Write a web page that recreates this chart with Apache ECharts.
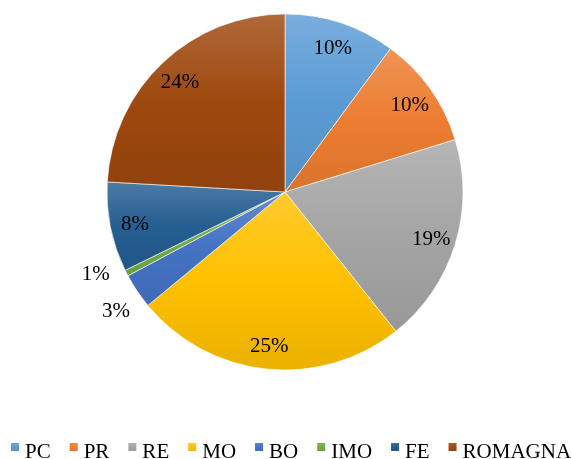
<!DOCTYPE html>
<html>
<head>
<meta charset="utf-8">
<script src="https://cdn.jsdelivr.net/npm/echarts@6/dist/echarts.min.js"></script>
<style>
  html, body { margin: 0; padding: 0; background: #fff; }
  #chart { width: 571px; height: 459px; }
</style>
</head>
<body>
<div id="chart"></div>
<script>
// ---- data ----
const categories = ['PC', 'PR', 'RE', 'MO', 'BO', 'IMO', 'FE', 'ROMAGNA'];
const shares = [10.1, 10.15, 19.05, 24.7, 3.2, 0.55, 8.15, 24.1];
const outsideLabelCats = ['BO', 'IMO'];

// ---- styles ----
const baseColors = ['#5B9BD5', '#ED7D31', '#A5A5A5', '#FFC000', '#4472C4', '#70AD47', '#255E91', '#9E480E'];
const FONT = '"Liberation Serif", "Times New Roman", serif';

function mix(hex, target, t) {
  const n = parseInt(hex.slice(1), 16);
  const r = (n >> 16) & 255, g = (n >> 8) & 255, b = n & 255;
  const m = v => Math.round(v + (target - v) * t);
  return 'rgb(' + m(r) + ',' + m(g) + ',' + m(b) + ')';
}
function grad(hex) {
  return new echarts.graphic.LinearGradient(0, 0, 0, 1, [
    { offset: 0, color: mix(hex, 255, 0.18) },
    { offset: 0.5, color: hex },
    { offset: 1, color: mix(hex, 0, 0.08) }
  ]);
}

const center = [285, 192];
const R = 178;

const mainData = categories.map((c, i) => ({
  name: c, value: shares[i], itemStyle: { color: grad(baseColors[i]) }
}));
const pctFmt = p => Math.round(p.percent) + '%';

const innerLabelData = categories.map((c, i) => ({
  name: c, value: shares[i],
  label: { show: outsideLabelCats.indexOf(c) < 0 }
}));
const outerLabelData = categories.map((c, i) => ({
  name: c, value: shares[i],
  label: { show: outsideLabelCats.indexOf(c) >= 0 }
}));

const labelStyle = {
  position: 'inside', formatter: pctFmt, color: '#000',
  fontFamily: FONT, fontSize: 21
};

const chart = echarts.init(document.getElementById('chart'), null, { renderer: 'canvas' });
chart.setOption({
  animation: false,
  backgroundColor: '#ffffff',
  legend: {
    data: categories,
    left: 9, top: 441, width: 800, padding: 0,
    itemWidth: 10, itemHeight: 10, itemGap: 17,
    icon: 'rect',
    formatter: '{t|{name}}',
    textStyle: {
      fontFamily: FONT, fontSize: 21, color: '#000',
      rich: { t: { fontFamily: FONT, fontSize: 21, color: '#000', padding: [10, 0, 0, 0] } }
    },
    selectedMode: false
  },
  series: [
    {
      type: 'pie', center: center, radius: [0, R],
      startAngle: 90, clockwise: true, silent: true,
      label: { show: false }, labelLine: { show: false },
      itemStyle: { borderColor: '#ffffff', borderWidth: 0.6 },
      data: mainData
    },
    {
      type: 'pie', center: center, radius: [122, R],
      startAngle: 90, clockwise: true, silent: true,
      itemStyle: { color: 'rgba(0,0,0,0)' },
      label: labelStyle, labelLine: { show: false },
      labelLayout: { dy: 2 },
      data: innerLabelData
    },
    {
      type: 'pie', center: center, radius: [R, 230],
      startAngle: 90, clockwise: true, silent: true,
      itemStyle: { color: 'rgba(0,0,0,0)' },
      label: labelStyle, labelLine: { show: false },
      labelLayout: function (params) {
        const name = categories[params.dataIndex];
        if (name === 'IMO') return { dx: -5, dy: -12 };
        if (name === 'BO') return { dx: 3, dy: 4 };
        return {};
      },
      data: outerLabelData
    }
  ]
});
</script>
</body>
</html>
